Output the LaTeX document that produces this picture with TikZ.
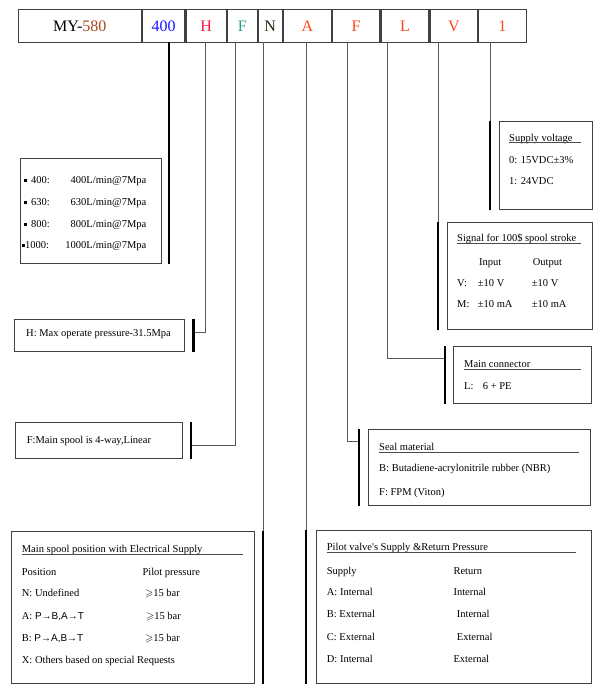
\documentclass[tikz,border=0pt]{standalone}
\usepackage{fontspec}
\usepackage{amssymb}
\setmainfont{Liberation Serif}
\newfontfamily\sansf{Liberation Sans}
\definecolor{c580}{RGB}{170,70,30}
\definecolor{c400}{RGB}{20,20,255}
\definecolor{cH}{RGB}{255,20,60}
\definecolor{cF}{RGB}{40,160,140}
\definecolor{cN}{RGB}{30,45,15}
\definecolor{cOr}{RGB}{255,70,25}
\begin{document}
\begin{tikzpicture}[x=1pt,y=-1pt,
	box/.style={draw=black!75,line width=0.9pt,anchor=north west,inner sep=0pt},
	cell/.style={draw=black!75,line width=1.1pt,anchor=north west,minimum height=32.7pt,inner sep=0pt,font=\hfs},
	link/.style={draw=black!65,line width=0.9pt},
	bar/.style={draw=black,line width=2.6pt},
	txt/.style={anchor=base west,inner sep=0pt,font=\fs},
	val/.style={anchor=base east,inner sep=0pt,font=\fs},
	uline/.style={draw=black!70,line width=0.8pt}]
	\def\fs{\fontsize{10.5pt}{12pt}\selectfont}
	\def\hfs{\fontsize{16pt}{18pt}\selectfont}
	\def\sq{\rule[1.8pt]{2.7pt}{2.7pt}}
	\useasboundingbox (0,0) rectangle (603,693);
	% model code
	\node[cell,minimum width=123pt] (hMY) at (17.7,9.3) {MY-\textcolor{c580}{580}};
	\node[cell,minimum width=42.6pt] (h400) at (hMY.north east) {\textcolor{c400}{400}};
	\node[cell,minimum width=40.4pt] (hH) at (h400.north east) {\textcolor{cH}{H}};
	\node[cell,minimum width=29.6pt] (hF) at (hH.north east) {\textcolor{cF}{F}};
	\node[cell,minimum width=24pt] (hN) at (hF.north east) {\textcolor{cN}{N}};
	\node[cell,minimum width=48pt] (hA) at (hN.north east) {\textcolor{cOr}{A}};
	\node[cell,minimum width=47.4pt] (hS) at (hA.north east) {\textcolor{cOr}{F}};
	\node[cell,minimum width=48pt] (hL) at (hS.north east) {\textcolor{cOr}{L}};
	\node[cell,minimum width=47.6pt] (hV) at (hL.north east) {\textcolor{cOr}{V}};
	\node[cell,minimum width=47.4pt] (hU) at (hV.north east) {\textcolor{cOr}{1}};
	\coordinate (t400) at (169,42);
	\coordinate (tH) at (205,42);
	\coordinate (tF) at (235,42);
	\coordinate (tN) at (263,42);
	\coordinate (tA) at (306,42);
	\coordinate (tS) at (347,42);
	\coordinate (tL) at (387,42);
	\coordinate (tV) at (438,42);
	\coordinate (tU) at (490,42);
	% boxes
	\node[box,minimum width=140.5pt,minimum height=105pt] (b400) at (20,158) {};
	\node[box,minimum width=170.3pt,minimum height=31.7pt] (bH) at (14,319.3) {};
	\node[box,minimum width=166.7pt,minimum height=35.7pt] (bF) at (15,422) {};
	\node[box,minimum width=243.3pt,minimum height=152.6pt] (bSpool) at (10.7,530.7) {};
	\node[box,minimum width=275.3pt,minimum height=153.3pt] (bPilot) at (315.7,530) {};
	\node[box,minimum width=222pt,minimum height=75.7pt] (bSeal) at (367.7,429.3) {};
	\node[box,minimum width=137.7pt,minimum height=57.3pt] (bConn) at (453.3,346) {};
	\node[box,minimum width=145pt,minimum height=107.6pt] (bSig) at (446.7,221.7) {};
	\node[box,minimum width=93pt,minimum height=88.6pt] (bVolt) at (498.7,120.7) {};
	% connectors
	\draw[bar] (t400) -- (t400 |- b400.south);
	\draw[link] (tH) |- ([xshift=8.4pt,yshift=3.5pt]bH.east);
	\draw[bar] ([xshift=8.4pt]bH.north east) -- ([xshift=8.4pt]bH.south east);
	\draw[link] (tF) |- ([xshift=8.3pt,yshift=-4.8pt]bF.east);
	\draw[bar] ([xshift=8.3pt]bF.north east) -- ([xshift=8.3pt]bF.south east);
	\draw[link] (tN) -- (tN |- bSpool.north);
	\draw[bar] (tN |- bSpool.north) -- (tN |- bSpool.south);
	\draw[link] (tA) -- (tA |- bPilot.north);
	\draw[bar] (tA |- bPilot.north) -- (tA |- bPilot.south);
	\draw[link] (tS) |- ([xshift=-8.7pt,yshift=-12.4pt]bSeal.north west);
	\draw[bar] ([xshift=-8.7pt]bSeal.north west) -- ([xshift=-8.7pt]bSeal.south west);
	\draw[link] (tL) |- ([xshift=-8.3pt,yshift=-12.3pt]bConn.north west);
	\draw[bar] ([xshift=-8.3pt]bConn.north west) -- ([xshift=-8.3pt]bConn.south west);
	\draw[link] (tV) -- (tV |- bSig.north);
	\draw[bar] (tV |- bSig.north) -- (tV |- bSig.south);
	\draw[link] (tU) -- (tU |- bVolt.north);
	\draw[bar] (tU |- bVolt.north) -- (tU |- bVolt.south);
	% flow
	\node[txt] (q1) at (24,183.6) {\sq\hspace{4.3pt}400:};
	\node[val] (v1) at (146.5,183.6) {400L/min@7Mpa};
	\node[txt] (q2) at (24,205.6) {\sq\hspace{4.3pt}630:};
	\node[val] (v2) at (146.5,205.6) {630L/min@7Mpa};
	\node[txt] (q3) at (24,227.6) {\sq\hspace{4.3pt}800:};
	\node[val] (v3) at (146.5,227.6) {800L/min@7Mpa};
	\node[txt] (q4) at (22,248.6) {\sq\hspace{0.3pt}1000:};
	\node[val] (v4) at (146.5,248.6) {1000L/min@7Mpa};
	\node[txt] (sH) at (26,336.6) {H: Max operate pressure-31.5Mpa};
	\node[txt] (sF) at (26.7,443.6) {F:Main spool is 4-way,Linear};
	% spool position
	\node[txt] (p0) at (21.7,552.9) {Main spool position with Electrical Supply};
	\draw[uline] ([yshift=-1.5pt]p0.base west) -- ++(221,0);
	\node[txt] (p1) at (21.7,575.3) {Position};
	\node[txt] (p1r) at (142.3,575.3) {Pilot pressure};
	\node[txt] (p2) at (21.7,596.3) {N: Undefined};
	\node[txt] (p2r) at (145,596.3) {$\geqslant$15 bar};
	\node[txt] (p3) at (21.7,619.3) {A: {\sansf\fontsize{10pt}{12pt}\selectfont P→B,A→T}};
	\node[txt] (p3r) at (146,619.3) {$\geqslant$15 bar};
	\node[txt] (p4) at (21.7,641.6) {B: {\sansf\fontsize{10pt}{12pt}\selectfont P→A,B→T}};
	\node[txt] (p4r) at (145,641.6) {$\geqslant$15 bar};
	\node[txt] (p5) at (21.7,663.6) {X: Others based on special Requests};
	% pilot supply
	\node[txt] (r0) at (326.7,550.9) {Pilot valve\textquotesingle s Supply \&Return Pressure};
	\draw[uline] ([yshift=-1.5pt]r0.base west) -- ++(249.3,0);
	\node[txt] (r1) at (326.7,574.3) {Supply};
	\node[txt] (r1r) at (453.3,574.3) {Return};
	\node[txt] (r2) at (326.7,595.9) {A: Internal};
	\node[txt] (r2r) at (453.3,595.9) {Internal};
	\node[txt] (r3) at (326.7,617.9) {B: External};
	\node[txt] (r3r) at (456.7,617.9) {Internal};
	\node[txt] (r4) at (326.7,640.3) {C: External};
	\node[txt] (r4r) at (456.7,640.3) {External};
	\node[txt] (r5) at (326.7,662.6) {D: Internal};
	\node[txt] (r5r) at (453.3,662.6) {External};
	% seal
	\node[txt] (e0) at (379,450.9) {Seal material};
	\draw[uline] ([yshift=-1.5pt]e0.base west) -- ++(200,0);
	\node[txt] (e1) at (379,471.9) {B: Butadiene-acrylonitrile rubber (NBR)};
	\node[txt] (e2) at (379,495.3) {F: FPM (Viton)};
	% connector
	\node[txt] (c0) at (464,367.6) {Main connector};
	\draw[uline] ([yshift=-1.5pt]c0.base west) -- ++(116.7,0);
	\node[txt] (c1) at (464,389.3) {L:};
	\node[txt] (c1r) at (482.7,389.3) {6 + PE};
	% signal
	\node[txt] (g0) at (457,241.9) {Signal for 100\$ spool stroke};
	\draw[uline] ([yshift=-1.5pt]g0.base west) -- ++(123.7,0);
	\node[txt] (g1) at (479,265.6) {Input};
	\node[txt] (g1r) at (532.7,265.6) {Output};
	\node[txt] (g2) at (457,286.9) {V:};
	\node[txt] (g2a) at (477.7,286.9) {±10 V};
	\node[txt] (g2b) at (531.7,286.9) {±10 V};
	\node[txt] (g3) at (457,307.9) {M:};
	\node[txt] (g3a) at (477.7,307.9) {±10 mA};
	\node[txt] (g3b) at (531.7,307.9) {±10 mA};
	% voltage
	\node[txt] (u0) at (509,141.3) {Supply voltage};
	\draw[uline] ([yshift=-1.5pt]u0.base west) -- ++(71.7,0);
	\node[txt] (u1) at (509,163.6) {0: 15VDC±3\%};
	\node[txt] (u2) at (509,184.6) {1: 24VDC};
\end{tikzpicture}
\end{document}
